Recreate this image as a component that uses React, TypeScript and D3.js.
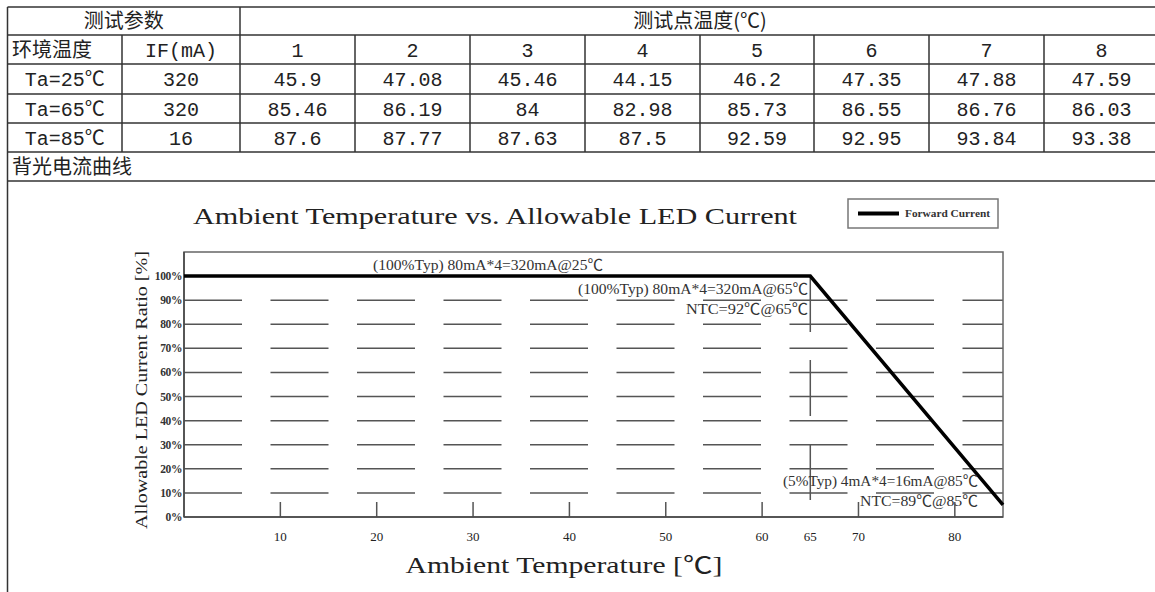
import React from 'react';
import * as d3 from 'd3';

// table data
const testPoints = ['1', '2', '3', '4', '5', '6', '7', '8'];
const conditions = ['Ta=25℃', 'Ta=65℃', 'Ta=85℃'];
const currents = ['320', '320', '16'];
const temps25 = ['45.9', '47.08', '45.46', '44.15', '46.2', '47.35', '47.88', '47.59'];
const temps65 = ['85.46', '86.19', '84', '82.98', '85.73', '86.55', '86.76', '86.03'];
const temps85 = ['87.6', '87.77', '87.63', '87.5', '92.59', '92.95', '93.84', '93.38'];
const tempRows = [temps25, temps65, temps85];

// derating curve
const curveTemp = [0, 65, 85];
const curveRatio = [100, 100, 5];
const yTicks = [0, 10, 20, 30, 40, 50, 60, 70, 80, 90, 100];
const gridTicks = [10, 20, 30, 40, 50, 60, 70, 80, 90];
const xTicks = [10, 20, 30, 40, 50, 60, 65, 70, 80];

const W = 1155;
const H = 592;
const MONO = '"Liberation Mono", "Noto Sans CJK SC", monospace';
const CJK = '"Noto Sans CJK SC", sans-serif';
const SERIF = '"Liberation Serif", "Noto Sans CJK SC", serif';
const LINE = '#333';

export default function App() {
  // table geometry
  const rowY = [7, 35, 64, 94, 123, 152, 181];
  const colX = [7.5, 122, 240, 355, 470, 585, 700, 814, 929, 1044, 1159];
  const mid = (a: number, b: number) => (a + b) / 2;

  // chart scales
  const x = d3.scaleLinear().domain([0, 85]).range([184, 1003]);
  const y = d3.scaleLinear().domain([0, 110]).range([517, 252]);
  const line = d3.line<number>()
    .x(d => x(curveTemp[d]))
    .y(d => y(curveRatio[d]));

  const cellText = (txt: string, cx: number, r: number, font = MONO) => (
    <text key={`${txt}-${cx}-${r}`} x={cx} y={mid(rowY[r], rowY[r + 1]) + 7}
      textAnchor="middle" fontFamily={font} fontSize={20} fill="#222">{txt}</text>
  );

  return (
    <svg width={W} height={H} style={{ position: 'absolute', left: 0, top: 0, display: 'block', background: '#fff' }}>
      {/* table grid */}
      <g stroke={LINE} strokeWidth={1.5}>
        {rowY.map(ry => <line key={ry} x1={colX[0]} x2={W} y1={ry} y2={ry} />)}
        <line x1={colX[0]} x2={colX[0]} y1={rowY[0]} y2={H} />
        <line x1={colX[2]} x2={colX[2]} y1={rowY[0]} y2={rowY[5]} />
        {colX.slice(1, -1).filter((_, i) => i !== 1).map(cx => (
          <line key={cx} x1={cx} x2={cx} y1={rowY[1]} y2={rowY[5]} />
        ))}
      </g>
      {cellText('测试参数', mid(colX[0], colX[2]), 0, CJK)}
      {cellText('测试点温度(℃)', 700, 0, CJK)}
      <text x={12} y={mid(rowY[1], rowY[2]) + 7} fontFamily={CJK} fontSize={20} fill="#222">环境温度</text>
      {cellText('IF(mA)', mid(colX[1], colX[2]), 1)}
      {testPoints.map((t, i) => cellText(t, mid(colX[i + 2], colX[i + 3]), 1))}
      {conditions.map((c, r) => cellText(c, mid(colX[0], colX[1]), r + 2))}
      {currents.map((c, r) => cellText(c, mid(colX[1], colX[2]), r + 2))}
      {tempRows.map((row, r) => row.map((v, i) => cellText(v, mid(colX[i + 2], colX[i + 3]), r + 2)))}
      <text x={12} y={mid(rowY[5], rowY[6]) + 7} fontFamily={CJK} fontSize={20} fill="#222">背光电流曲线</text>

      {/* chart */}
      <text x={495} y={224} textAnchor="middle" fontFamily={SERIF} fontSize={23} fill="#222"
        textLength={604} lengthAdjust="spacingAndGlyphs">Ambient Temperature vs. Allowable LED Current</text>

      <g stroke="#555" strokeWidth={1.5}>
        {gridTicks.map(t => (
          <line key={t} x1={x(0)} x2={x(85)} y1={y(t)} y2={y(t)} strokeDasharray="58 28.5" />
        ))}
        <line x1={x(65)} x2={x(65)} y1={y(100)} y2={y(0)} strokeDasharray="56 28" />
        {xTicks.filter(t => t !== 65).map(t => (
          <line key={t} x1={x(t)} x2={x(t)} y1={y(0)} y2={y(0) - 15} />
        ))}
      </g>
      <rect x={x(0)} y={y(110)} width={x(85) - x(0)} height={y(0) - y(110)}
        fill="none" stroke="#666" strokeWidth={1.5} />
      <line x1={x(0)} x2={x(85)} y1={y(0)} y2={y(0)} stroke="#444" strokeWidth={1.5} />
      <line x1={x(0)} x2={x(0)} y1={y(0)} y2={y(110)} stroke="#444" strokeWidth={1.5} />

      <path d={line(d3.range(curveTemp.length)) ?? ''} fill="none" stroke="#000" strokeWidth={3.5} />

      {yTicks.map(t => (
        <text key={t} x={182} y={y(t) + 4} textAnchor="end" fontFamily={SERIF} fontSize={11.5}
          fontWeight="bold" fill="#333" letterSpacing={-0.4}>{`${t}%`}</text>
      ))}
      {xTicks.map(t => (
        <text key={t} x={x(t)} y={541} textAnchor="middle" fontFamily={SERIF} fontSize={13} fill="#222">{t}</text>
      ))}

      <text transform="translate(147,390) rotate(-90)" textAnchor="middle" fontFamily={SERIF} fontSize={16}
        fill="#222" textLength={278} lengthAdjust="spacingAndGlyphs">Allowable LED Current Ratio [%]</text>
      <text x={564} y={573} textAnchor="middle" fontFamily={SERIF} fontSize={23} fill="#222"
        textLength={317} lengthAdjust="spacingAndGlyphs">Ambient Temperature [℃]</text>

      {/* annotations */}
      <g fontFamily={SERIF} fontSize={15} fill="#333">
        <text x={373} y={270} textLength={230} lengthAdjust="spacingAndGlyphs">(100%Typ) 80mA*4=320mA@25℃</text>
        <text x={808} y={294} textAnchor="end" textLength={230} lengthAdjust="spacingAndGlyphs">(100%Typ) 80mA*4=320mA@65℃</text>
        <text x={808} y={314} textAnchor="end" textLength={122} lengthAdjust="spacingAndGlyphs">NTC=92℃@65℃</text>
        <text x={783} y={486} textLength={195} lengthAdjust="spacingAndGlyphs">(5%Typ) 4mA*4=16mA@85℃</text>
        <text x={978} y={506} textAnchor="end" textLength={118} lengthAdjust="spacingAndGlyphs">NTC=89℃@85℃</text>
      </g>

      {/* legend */}
      <rect x={848} y={199} width={150} height={29} fill="#fff" stroke="#777" strokeWidth={1.5} />
      <line x1={858} x2={899} y1={213.5} y2={213.5} stroke="#000" strokeWidth={4} />
      <text x={905} y={217} fontFamily={SERIF} fontSize={10} fontWeight="bold" fill="#333"
        textLength={85} lengthAdjust="spacingAndGlyphs">Forward Current</text>
    </svg>
  );
}
